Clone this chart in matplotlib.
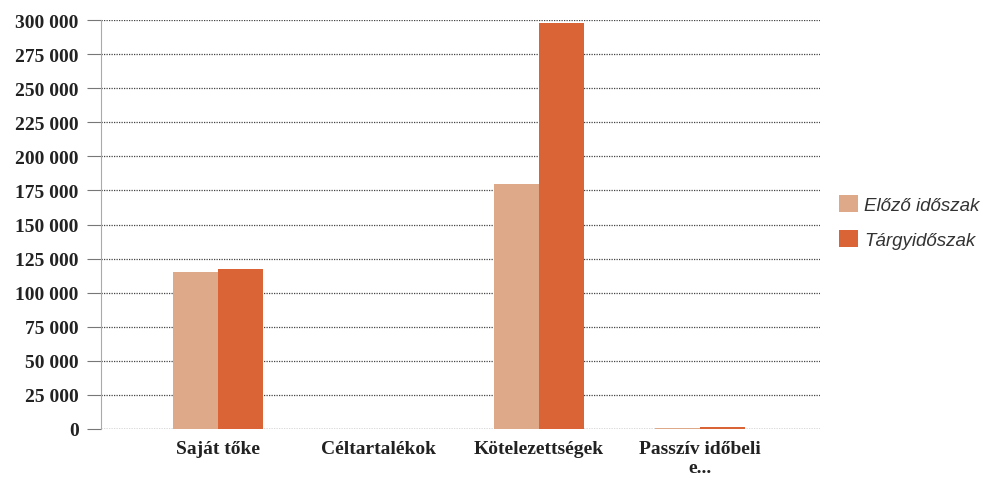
import matplotlib.pyplot as plt
import numpy as np

# categories and values
categories = ['Saját tőke', 'Céltartalékok', 'Kötelezettségek', 'Passzív időbeli\ne...']
elozo = [115000, 0, 180000, 600]
targy = [117500, 0, 298000, 1200]
series_names = ['Előző időszak', 'Tárgyidőszak']
yticks = list(range(0, 300001, 25000))

light = '#DDA988'
dark = '#DB6437'

fig = plt.figure(figsize=(9.91, 4.85), dpi=100)
ax = fig.add_axes([101/991, 55/485, 719/991, 409/485])

x = np.arange(len(categories))
w = 0.28
ax.bar(x - w/2, elozo, width=w, color=light, label=series_names[0], zorder=3)
ax.bar(x + w/2, targy, width=w, color=dark, label=series_names[1], zorder=3)

ax.set_xlim(-0.73, 3.75)
ax.set_ylim(0, 300000)
ax.set_yticks(yticks)
ax.set_yticklabels([f'{v:,}'.replace(',', ' ') for v in yticks],
                   fontfamily='Liberation Serif', fontweight='bold', fontsize=14, color='#222222')
ax.set_xticks(x)
ax.set_xticklabels(categories, fontfamily='Liberation Serif', fontweight='bold',
                   fontsize=14, color='#222222', linespacing=1.15)

ax.grid(axis='y', color='#444444', linestyle=(0, (1, 1)), linewidth=0.9, zorder=0)
for s in ['top', 'right', 'bottom']:
    ax.spines[s].set_visible(False)
ax.spines['left'].set_color('#aaaaaa')
ax.tick_params(axis='y', length=10, color='#777777', pad=6)
ax.tick_params(axis='x', length=0, pad=8)
ax.axhline(0, color='#888888', linestyle=(0, (1, 1)), linewidth=0.9, zorder=1)

leg = fig.legend(loc='center left', bbox_to_anchor=(822/991, 1 - 223/485), frameon=False,
                 prop={'family': 'Liberation Sans', 'style': 'italic', 'size': 13.5},
                 handlelength=1.0, handleheight=1.0, handletextpad=0.35, labelspacing=0.9)
for t in leg.get_texts():
    t.set_color('#333333')

fig.savefig('out.png', dpi=100, facecolor='white')
